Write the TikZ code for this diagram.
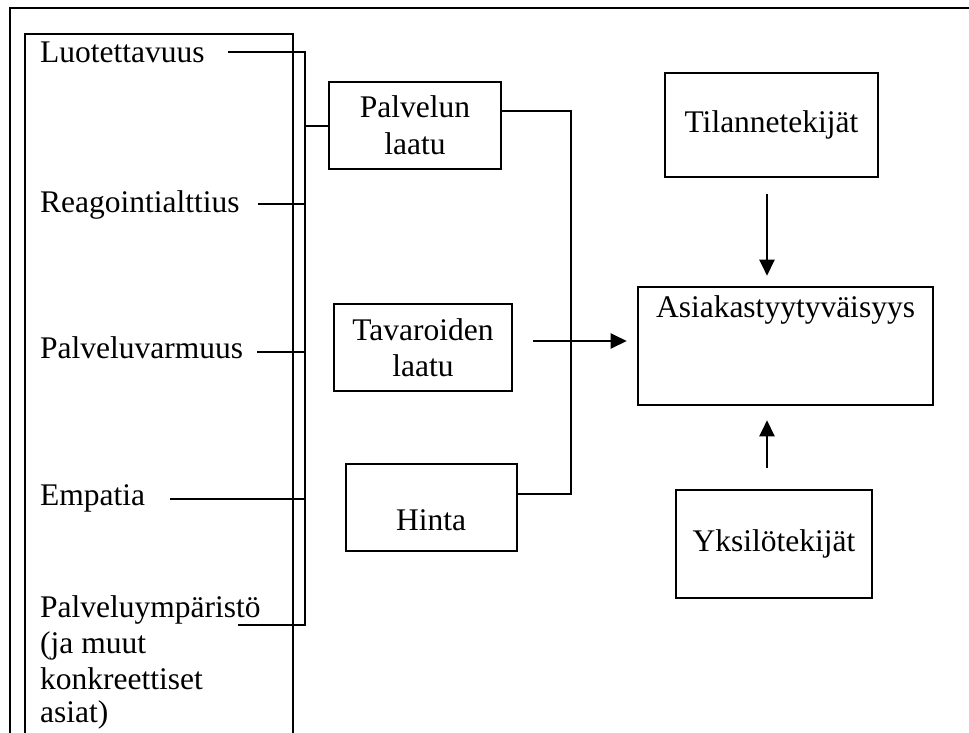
\documentclass[tikz,border=0pt]{standalone}
\usepackage{fontspec}
\setmainfont{Liberation Serif}
\usetikzlibrary{arrows.meta}
\begin{document}
\begin{tikzpicture}[x=1pt,y=-1pt,
  font=\fontsize{31.5}{36.5}\selectfont,
  frame/.style={line width=2.8pt},
  boxnode/.style={draw, line width=2.6pt, inner sep=0pt, align=center},
  link/.style={line width=2.1pt},
  arr/.style={line width=2.4pt, -{Triangle[length=16pt,width=15pt]}},
  lbl/.style={anchor=base west, inner sep=0pt}]
\useasboundingbox (0,0) rectangle (969,733);
% frames
\draw[frame] (10,733) -- (10,8) -- (969,8);
\draw[frame] (25,733) -- (25,34) -- (293,34) -- (293,733);
% left labels
\node[lbl] (l1) at (40,63) {Luotettavuus};
\node[lbl] (l2) at (40,212) {Reagointialttius};
\node[lbl] (l3) at (40,358) {Palveluvarmuus};
\node[lbl] (l4) at (40,505) {Empatia};
\node[lbl] (l5) at (40,617) {Palveluympäristö};
\node[lbl] (l5b) at (40,653) {(ja muut};
\node[lbl] (l5c) at (40,689) {konkreettiset};
\node[lbl] (l5d) at (40,722) {asiat)};
% bracket coordinates
\coordinate (s1) at (228,52);
\coordinate (s2) at (258,204);
\coordinate (s3) at (257,352);
\coordinate (s4) at (170,499);
\coordinate (s5) at (238,625);
\coordinate (bt) at (305,52);
\coordinate (bb) at (305,625);
\coordinate (bm) at (305,126);
% middle boxes
\node[boxnode, minimum width=172pt, minimum height=87pt] (pl) at (415,125.5) {Palvelun\\[0.5pt]laatu};
\node[boxnode, minimum width=178pt, minimum height=87pt] (tl) at (423,347.5) {Tavaroiden\\laatu};
\node[boxnode, minimum width=171pt, minimum height=87pt] (hi) at (431.5,507.5) {};
\node[anchor=base, inner sep=0pt] (hitext) at (431,530) {Hinta};
% right boxes
\node[boxnode, minimum width=213pt, minimum height=104pt] (ti) at (771.5,125) {Tilannetekijät};
\node[boxnode, minimum width=295pt, minimum height=118pt] (as) at (785.5,346) {};
\node[anchor=base, inner sep=0pt] (astext) at (785.5,317) {Asiakastyytyväisyys};
\node[boxnode, minimum width=196pt, minimum height=108pt] (yk) at (774,544) {Yksilötekijät};
% left bracket
\draw[link] (s1) -- (bt) -- (bb) -- (s5);
\draw[link] (s2) -- (s2 -| bt);
\draw[link] (s3) -- (s3 -| bt);
\draw[link] (s4) -- (s4 -| bt);
\draw[link] (bm) -- (pl.west |- bm);
% right bracket
\coordinate (r1) at (571,111);
\coordinate (r2) at (571,494);
\draw[link] (pl.east |- r1) -- (r1) -- (r2) -- (hi.east |- r2);
% arrows
\coordinate (a0) at (533,341);
\draw[arr, shorten >=10pt] (a0) -- (as.west |- a0);
\coordinate (dv) at (767,0);
\draw[arr, shorten <=16pt, shorten >=10pt] (ti.south -| dv) -- (as.north -| dv);
\draw[arr, shorten <=21pt, shorten >=14pt] (yk.north -| dv) -- (as.south -| dv);
\end{tikzpicture}
\end{document}
